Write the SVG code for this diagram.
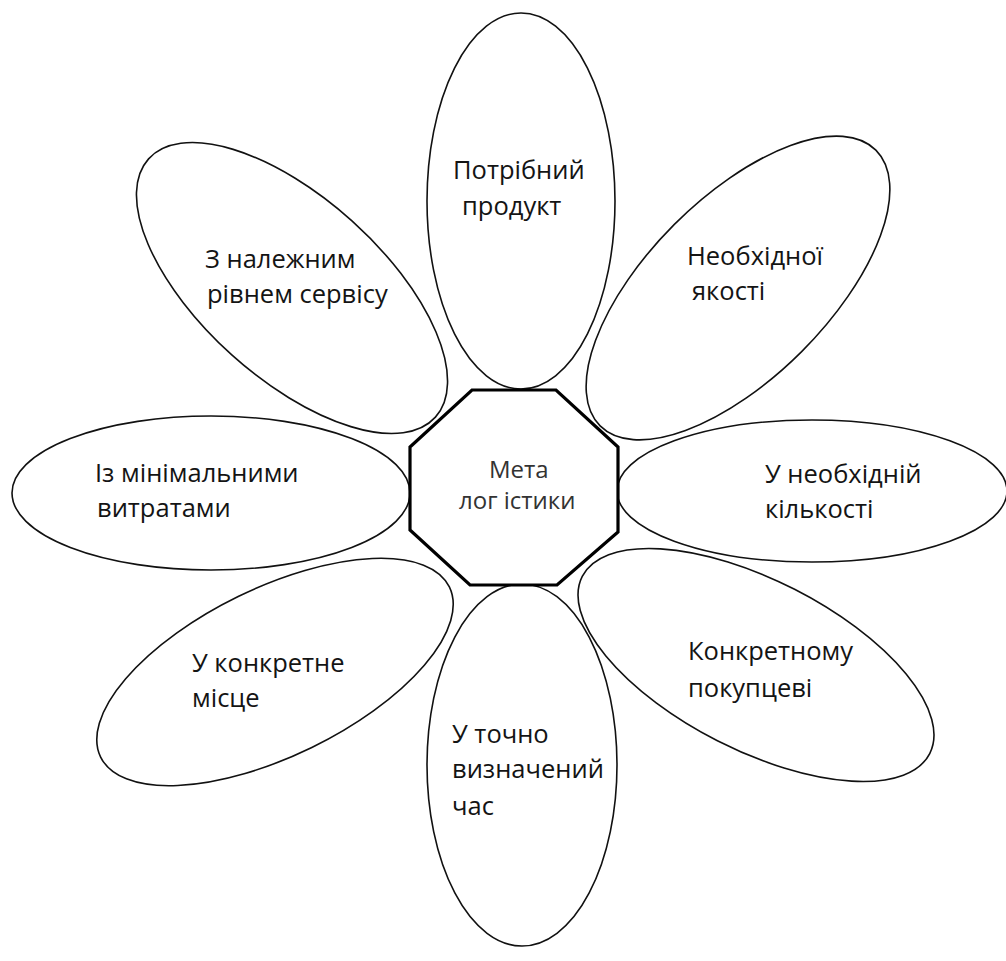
<svg xmlns="http://www.w3.org/2000/svg" width="1006" height="961" viewBox="0 0 1006 961">
<style>
.petal{fill:none;stroke:#111;stroke-width:1.6}
.core{fill:#fff;stroke:#000;stroke-width:3.2;stroke-linejoin:miter}
.lbl{font-family:"Open Sans","Noto Sans","DejaVu Sans",sans-serif;font-size:25.5px;fill:#141414}
.ctr{font-family:"Open Sans","Noto Sans","DejaVu Sans",sans-serif;font-size:24px;fill:#333}
</style>
<rect width="1006" height="961" fill="#fff"/>
<g id="petal-top"><ellipse class="petal" cx="521" cy="201" rx="94" ry="188"/>
<text class="lbl" x="453" y="179">Потрібний</text><text class="lbl" x="462" y="215">продукт</text></g>
<g id="petal-top-right"><ellipse class="petal" cx="0" cy="0" rx="195" ry="90" transform="translate(738 288) rotate(-45)"/>
<text class="lbl" x="687" y="265">Необхідної</text><text class="lbl" x="692" y="300">якості</text></g>
<g id="petal-right"><ellipse class="petal" cx="812" cy="491" rx="195" ry="71"/>
<text class="lbl" x="765" y="483">У необхідній</text><text class="lbl" x="765" y="518">кількості</text></g>
<g id="petal-bottom-right"><ellipse class="petal" cx="0" cy="0" rx="195" ry="85" transform="translate(756 665) rotate(27)"/>
<text class="lbl" x="688" y="660">Конкретному</text><text class="lbl" x="688" y="697">покупцеві</text></g>
<g id="petal-bottom"><ellipse class="petal" cx="522" cy="765" rx="95" ry="181"/>
<text class="lbl" x="452" y="743">У точно</text><text class="lbl" x="452" y="778">визначений</text><text class="lbl" x="452" y="815">час</text></g>
<g id="petal-bottom-left"><ellipse class="petal" cx="0" cy="0" rx="194" ry="84" transform="translate(275 672) rotate(-26)"/>
<text class="lbl" x="192" y="672">У конкретне</text><text class="lbl" x="192" y="707">місце</text></g>
<g id="petal-left"><ellipse class="petal" cx="211" cy="493" rx="199" ry="77"/>
<text class="lbl" x="95" y="482">Із мінімальними</text><text class="lbl" x="97" y="517">витратами</text></g>
<g id="petal-top-left"><ellipse class="petal" cx="0" cy="0" rx="193" ry="90" transform="translate(292 288) rotate(42)"/>
<text class="lbl" x="205" y="268">З належним</text><text class="lbl" x="207" y="303">рівнем сервісу</text></g>
<g id="center"><polygon class="core" points="472,390 556,390 618,447 618,532 557,585 470,585 410,530 410,447"/>
<text class="ctr" x="489" y="478">Мета</text><text class="ctr" x="459" y="509">лог істики</text></g>
<g id="connectors"/>
</svg>
